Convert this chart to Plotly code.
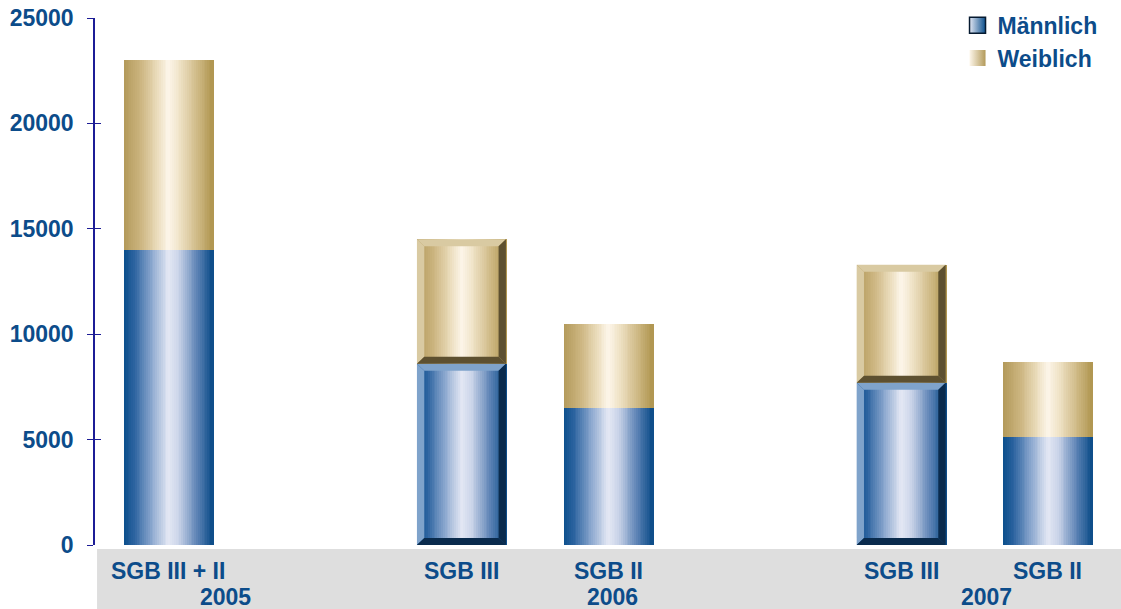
import plotly.graph_objects as go

# ---------------- data ----------------
categories = ["SGB III + II", "SGB III", "SGB II", "SGB III", "SGB II"]
years = ["2005", "2006", "2007"]
maennlich = [14000, 8600, 6500, 7700, 5100]
weiblich = [9000, 5900, 4000, 5600, 3600]
bevelled = [False, True, False, True, False]
y_ticks = [0, 5000, 10000, 15000, 20000, 25000]
y_tick_labels = ["0", "5000", "10000", "15000", "20000", "25000"]

# ---------------- layout helpers ----------------
x_pos = [0, 2, 3, 5, 6]             # slot positions of the bars
year_pos = [0.39, 3.03, 5.58]        # label positions of the year groups
BAR_W = 0.607
N = 48
TXT = "#0C4C8A"
FONT = "Liberation Sans, Arial, sans-serif"

def hex2rgb(h):
    h = h.lstrip("#")
    return tuple(int(h[i:i + 2], 16) for i in (0, 2, 4))

def interp(stops, t):
    for (t0, c0), (t1, c1) in zip(stops[:-1], stops[1:]):
        if t0 <= t <= t1:
            f = (t - t0) / (t1 - t0) if t1 > t0 else 0
            a, b = hex2rgb(c0), hex2rgb(c1)
            return "rgb(%d,%d,%d)" % tuple(round(a[k] + (b[k] - a[k]) * f) for k in range(3))
    return stops[-1][1]

blue_stops = [(0, "#0B4F8C"), (0.12, "#2D64A0"), (0.32, "#8FAAD0"), (0.5, "#E4E8F4"),
              (0.62, "#C9D3E8"), (0.82, "#5E84B6"), (1.0, "#0A4B87")]
gold_stops = [(0, "#B39A5A"), (0.2, "#CDB682"), (0.38, "#EBDDBD"), (0.5, "#FDF6EA"),
              (0.62, "#F0E4C9"), (0.82, "#D0BB88"), (1.0, "#AF954F")]

fig = go.Figure()

totals = [m + w for m, w in zip(maennlich, weiblich)]
segments = [
    (maennlich, [0] * len(maennlich), blue_stops),
    (weiblich, maennlich, gold_stops),
]
for vals, bases, stops in segments:
    for i in range(N):
        t = (i + 0.5) / N
        fig.add_trace(go.Bar(
            x=x_pos, y=vals, base=bases,
            width=BAR_W / N * 1.6,
            offset=-BAR_W / 2 + i * BAR_W / N,
            marker=dict(color=interp(stops, t), line=dict(width=0)),
            showlegend=False, hoverinfo="skip",
        ))
    fig.add_trace(go.Bar(
        x=x_pos, y=vals, base=bases,
        width=BAR_W / N,
        offset=BAR_W / 2 - BAR_W / N,
        marker=dict(color=interp(stops, 1 - 0.5 / N), line=dict(width=0)),
        showlegend=False, hoverinfo="skip",
    ))

# legend entries (gradient square markers)
fig.add_trace(go.Scatter(x=[None], y=[None], name="Männlich", mode="markers",
                         marker=dict(symbol="square", size=19, color="#E4E8F4",
                                     gradient=dict(type="horizontal", color="#0B4F8C"),
                                     line=dict(color="#061A30", width=1.5))))
fig.add_trace(go.Scatter(x=[None], y=[None], name="Weiblich", mode="markers",
                         marker=dict(symbol="square", size=19, color="#FDF6EA",
                                     gradient=dict(type="horizontal", color="#B39A5A"),
                                     line=dict(width=0))))

# bevels on selected bars
dx = 0.05
dy = 7 / 527 * 25000
shapes = []
bevel_cols = [("#7FA3CB", "#0A2B4D"), ("#D9CAA2", "#5D5030")]
for k, x in enumerate(x_pos):
    if not bevelled[k]:
        continue
    x0, x1 = x - BAR_W / 2, x + BAR_W / 2
    for (y0, y1), (lc, dc) in zip([(0, maennlich[k]), (maennlich[k], totals[k])], bevel_cols):
        polys = [
            ([(x0, y1), (x1, y1), (x1 - dx, y1 - dy), (x0 + dx, y1 - dy)], lc),
            ([(x0, y0), (x0, y1), (x0 + dx, y1 - dy), (x0 + dx, y0 + dy)], lc),
            ([(x1, y1), (x1, y0), (x1 - dx, y0 + dy), (x1 - dx, y1 - dy)], dc),
            ([(x0, y0), (x1, y0), (x1 - dx, y0 + dy), (x0 + dx, y0 + dy)], dc),
        ]
        for pts, col in polys:
            path = "M " + " L ".join("%f,%f" % p for p in pts) + " Z"
            shapes.append(dict(type="path", path=path, xref="x", yref="y",
                               fillcolor=col, line=dict(width=0), layer="above"))

# gray category band
shapes.append(dict(type="rect", xref="paper", yref="paper", x0=0.002, x1=1.0,
                   y0=-64 / 527, y1=-4 / 527, fillcolor="#DEDEDE",
                   line=dict(width=0), layer="below"))

annotations = []
for x, c in zip(x_pos, categories):
    annotations.append(dict(x=x, y=-26 / 527, xref="x", yref="paper", text=c,
                            showarrow=False, yanchor="middle",
                            font=dict(family=FONT, size=23, color=TXT, weight="bold")))
for x, yr in zip(year_pos, years):
    annotations.append(dict(x=x, y=-52 / 527, xref="x", yref="paper", text=yr,
                            showarrow=False, yanchor="middle",
                            font=dict(family=FONT, size=23, color=TXT, weight="bold")))

fig.update_layout(
    width=1121, height=609,
    margin=dict(l=95, r=0, t=18, b=64),
    paper_bgcolor="white", plot_bgcolor="white",
    barmode="overlay",
    bargap=0,
    font=dict(family=FONT, size=23, color=TXT),
    xaxis=dict(range=[-0.5, 6.5], showticklabels=False, showgrid=False,
               zeroline=False, showline=False, ticks=""),
    yaxis=dict(range=[0, 25000], tickvals=y_ticks, ticktext=y_tick_labels,
               showgrid=False, zeroline=False,
               showline=True, linecolor="#1C1C96", linewidth=1.5,
               ticks="outside", ticklen=6, tickcolor="#1C1C96", tickwidth=1,
               ticklabelstandoff=9,
               tickfont=dict(family=FONT, size=23, color=TXT, weight="bold")),
    yaxis2=dict(range=[0, 25000], tickvals=y_ticks, overlaying="y", side="left",
                showgrid=False, zeroline=False, showline=False, showticklabels=False,
                ticks="inside", ticklen=6, tickcolor="#1C1C96", tickwidth=1),
    legend=dict(x=0.982, y=1.027, xanchor="right", yanchor="top",
                bgcolor="rgba(0,0,0,0)", traceorder="normal",
                font=dict(family=FONT, size=23, color=TXT, weight="bold"),
                itemwidth=30, tracegroupgap=0, itemsizing="trace"),
    shapes=shapes,
    annotations=annotations,
)

fig.add_trace(go.Scatter(x=[None], y=[None], yaxis="y2", showlegend=False, hoverinfo="skip"))

fig.write_html("out.html", config={"displayModeBar": False},
               post_script="document.body.style.margin='0';document.body.style.overflow='hidden';")
